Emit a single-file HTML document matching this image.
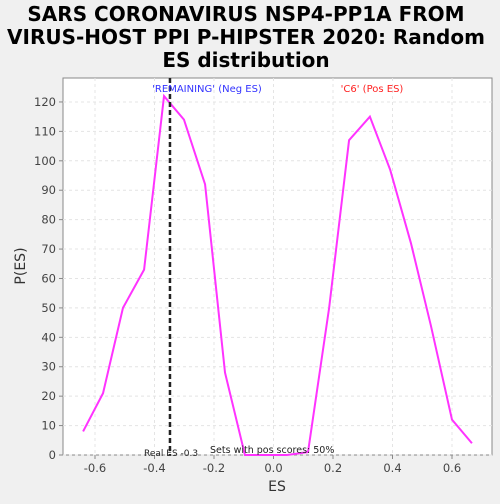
<!DOCTYPE html>
<html><head><meta charset="utf-8"><style>
body{margin:0;background:#f0f0f0;width:500px;height:500px;overflow:hidden;font-family:"DejaVu Sans","Liberation Sans",sans-serif}
</style></head><body>
<svg width="500" height="500" xmlns="http://www.w3.org/2000/svg">
<text x="246" y="21" text-anchor="middle" font-size="20" font-weight="bold">SARS CORONAVIRUS NSP4-PP1A FROM</text>
<text x="246" y="44" text-anchor="middle" font-size="20" font-weight="bold">VIRUS-HOST PPI P-HIPSTER 2020: Random</text>
<text x="246" y="67" text-anchor="middle" font-size="20" font-weight="bold">ES distribution</text>
<rect x="63" y="78" width="429" height="377" fill="#fff" stroke="#888"/>
<g id="grid"></g><g id="axes"></g>
<polyline id="line" fill="none" stroke="#ff33ff" stroke-width="2"/>
<line id="real" y1="78" y2="455" stroke="#222" stroke-width="2.5" stroke-dasharray="5,3"/>
<text x="207" y="92" text-anchor="middle" font-size="10" fill="#3333ff">'REMAINING' (Neg ES)</text>
<text x="372" y="92" text-anchor="middle" font-size="10" fill="#ff2222">'C6' (Pos ES)</text>
<text x="144" y="456" font-size="9" fill="#222">Real ES -0.3</text>
<text x="210" y="453" font-size="9.5" fill="#222">Sets with pos scores: 50%</text>
<text x="277" y="491" text-anchor="middle" font-size="14" fill="#333">ES</text>
<text x="25" y="266" text-anchor="middle" font-size="14" fill="#333" transform="rotate(-90 25 266)">P(ES)</text>
</svg>
<script>
const xs=[-0.64,-0.573,-0.506,-0.435,-0.368,-0.301,-0.23,-0.163,-0.096,-0.025,0.045,0.116,0.187,0.254,0.324,0.392,0.462,0.529,0.6,0.667];
const ys=[8,21,50,63,122,114,92,28,0,0,0,1,50,107,115,97,72,44,12,4];
const xTicks=[-0.6,-0.4,-0.2,0.0,0.2,0.4,0.6];
const xTickLabels=["-0.6","-0.4","-0.2","0.0","0.2","0.4","0.6"];
const yTicks=[0,10,20,30,40,50,60,70,80,90,100,110,120];
const realES=-0.348;
const X=v=>273.5+v*297.5, Y=v=>455-v*2.942;
const NS="http://www.w3.org/2000/svg";
const grid=document.getElementById('grid'),axes=document.getElementById('axes');
function mk(t,a,p){const e=document.createElementNS(NS,t);for(const k in a)e.setAttribute(k,a[k]);p.appendChild(e);return e;}
xTicks.forEach((v,i)=>{
 const g=mk('line',{x1:X(v),x2:X(v),y1:78,y2:455,stroke:'#e4e4e4','stroke-dasharray':'3,3'},grid);
 
 
 mk('line',{x1:X(v),x2:X(v),y1:455,y2:459,stroke:'#888'},axes);
 const t=mk('text',{x:X(v),y:472,'text-anchor':'middle','font-size':11.5,fill:'#444'},axes);
 t.textContent=xTickLabels[i];
 
 
});
yTicks.forEach(v=>{
 const g=mk('line',{x1:63,x2:492,y1:Y(v),y2:Y(v),stroke:'#e4e4e4','stroke-dasharray':'3,3'},grid);
 
 
 mk('line',{x1:59,x2:63,y1:Y(v),y2:Y(v),stroke:'#888'},axes);
 const t=mk('text',{x:56,y:Y(v)+4,'text-anchor':'end','font-size':11.5,fill:'#444'},axes);
 t.textContent=v;
 
 
});
document.getElementById('line').setAttribute('points',xs.map((x,i)=>X(x)+','+Y(ys[i])).join(' '));
const r=document.getElementById('real');r.setAttribute('x1',X(realES));r.setAttribute('x2',X(realES));
</script>
</body></html>
